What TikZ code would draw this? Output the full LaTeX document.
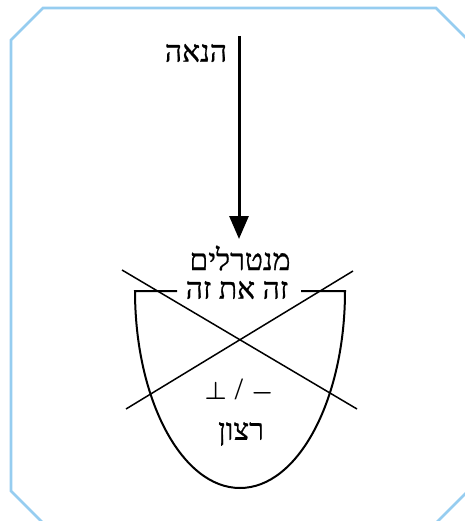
\documentclass[tikz,border=0pt]{standalone}
\usepackage{fontspec}
\setmainfont{Liberation Serif}
\newfontfamily\hebfont[Script=Hebrew,FakeBold=0.7]{Liberation Serif}
\TeXXeTstate=1
\usepackage{xcolor}
\usetikzlibrary{arrows.meta,positioning}
\definecolor{frameblue}{RGB}{150,205,240}
\tikzset{
  heb/.style  ={inner sep=1pt,font=\hebfont\fontsize{30}{36}\selectfont},
  bowl/.style ={draw,line width=2pt},
  crossl/.style={draw,line width=1.5pt},
  frame/.style={draw=frameblue,line width=2.6pt},
  ar/.style   ={-{Triangle[length=23pt,width=19pt]},line width=3pt},
}
\begin{document}
\begin{tikzpicture}[x=1pt,y=-1pt]
  \useasboundingbox (0,0) rectangle (464,521);
  \draw[frame] (11,40)--(43,8)--(436,8)--(468,40)--(468,491)--(436,523)--(43,523)--(11,491)--cycle;
  % arrow
  \coordinate (src) at (239,36);
  \coordinate (dst) at (239,239);
  \draw[ar] (src) -- (dst);
  \node[heb] (pleasure) at (196,53) {\beginR הנאה\endR};
  % bowl
  \node[heb] (neutral) at (240,258) {\beginR מנטרלים\endR};
  \node[heb] (eachother) at (237,290) {\beginR זה את זה\endR};
  \coordinate (gapl) at (177,291);
  \coordinate (gapr) at (301,291);
  \coordinate (bl) at (135,291);
  \coordinate (br) at (345,291);
  \draw[bowl] (gapl) -- (bl) arc[start angle=180,end angle=360,x radius=105,y radius=-197] -- (gapr);
  \node[font=\fontsize{31}{36}\selectfont\boldmath] (sym) at (239,391) {$\perp$ / $-$};
  \node[heb] (will) at (241,434) {\beginR רצון\endR};
  % cancelling lines
  \coordinate (c1) at (122,270);
  \coordinate (c2) at (357,409);
  \coordinate (c3) at (126,409);
  \coordinate (c4) at (353,271);
  \draw[crossl] (c1) -- (c2);
  \draw[crossl] (c3) -- (c4);
\end{tikzpicture}
\end{document}
